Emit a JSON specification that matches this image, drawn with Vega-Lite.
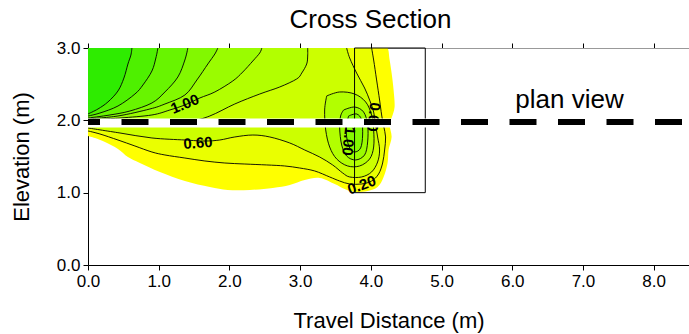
{
  "$schema": "https://vega.github.io/schema/vega-lite/v6.json",
  "width": 601,
  "height": 217,
  "autosize": "none",
  "padding": {"left": 88, "top": 48, "right": 0, "bottom": 69},
  "background": "white",
  "config": {
    "view": {"stroke": null},
    "font": "Liberation Sans",
    "axis": {"labelFont": "Liberation Sans", "titleFont": "Liberation Sans", "labelColor": "black", "titleColor": "black", "domainColor": "black", "tickColor": "black", "grid": false, "titleFontWeight": "normal"}
  },
  "title": {"text": "Cross Section", "fontSize": 26, "fontWeight": "normal", "font": "Liberation Sans", "color": "black", "anchor": "middle", "dx": -18, "offset": 6},
  "datasets": {
    "poly": [
      {"id":"p00","i":0,"x":0,"y":3,"c":1},
      {"id":"p00","i":0.5,"x":4.15,"y":3,"c":1},
      {"id":"p00","i":1,"x":4.237,"y":3,"c":0},
      {"id":"p00","i":2,"x":4.266,"y":2.834,"c":0},
      {"id":"p00","i":3,"x":4.294,"y":2.654,"c":0},
      {"id":"p00","i":4,"x":4.322,"y":2.419,"c":0},
      {"id":"p00","i":5,"x":4.336,"y":2.184,"c":0},
      {"id":"p00","i":6,"x":4.294,"y":2.032,"c":0},
      {"id":"p00","i":7,"x":4.266,"y":1.936,"c":0},
      {"id":"p00","i":8,"x":4.294,"y":1.77,"c":0},
      {"id":"p00","i":9,"x":4.251,"y":1.59,"c":0},
      {"id":"p00","i":10,"x":4.237,"y":1.41,"c":0},
      {"id":"p00","i":11,"x":4.181,"y":1.217,"c":0},
      {"id":"p00","i":12,"x":4.096,"y":1.078,"c":0},
      {"id":"p00","i":13,"x":3.955,"y":1.023,"c":0},
      {"id":"p00","i":14,"x":3.771,"y":1.009,"c":0},
      {"id":"p00","i":15,"x":3.63,"y":1.051,"c":0},
      {"id":"p00","i":16,"x":3.489,"y":1.12,"c":0},
      {"id":"p00","i":17,"x":3.277,"y":1.203,"c":0},
      {"id":"p00","i":18,"x":3.065,"y":1.175,"c":0},
      {"id":"p00","i":19,"x":2.853,"y":1.106,"c":0},
      {"id":"p00","i":20,"x":2.613,"y":1.065,"c":0},
      {"id":"p00","i":21,"x":2.288,"y":1.037,"c":0},
      {"id":"p00","i":22,"x":1.977,"y":1.037,"c":0},
      {"id":"p00","i":23,"x":1.723,"y":1.078,"c":0},
      {"id":"p00","i":24,"x":1.37,"y":1.161,"c":0},
      {"id":"p00","i":25,"x":1.017,"y":1.286,"c":0},
      {"id":"p00","i":26,"x":0.734,"y":1.41,"c":0},
      {"id":"p00","i":27,"x":0.565,"y":1.493,"c":0},
      {"id":"p00","i":28,"x":0.424,"y":1.604,"c":0},
      {"id":"p00","i":29,"x":0.24,"y":1.701,"c":0},
      {"id":"p00","i":30,"x":0.099,"y":1.756,"c":0},
      {"id":"p00","i":31,"x":0,"y":1.784,"c":0},

      {"id":"p01","i":0,"x":0,"y":3,"c":1},
      {"id":"p01","i":0.5,"x":3.93,"y":3,"c":1},
      {"id":"p01","i":1,"x":4.011,"y":3,"c":0},
      {"id":"p01","i":2,"x":4.04,"y":2.834,"c":0},
      {"id":"p01","i":3,"x":4.082,"y":2.558,"c":0},
      {"id":"p01","i":4,"x":4.124,"y":2.281,"c":0},
      {"id":"p01","i":5,"x":4.153,"y":2.074,"c":0},
      {"id":"p01","i":6,"x":4.181,"y":1.922,"c":0},
      {"id":"p01","i":7,"x":4.209,"y":1.77,"c":0},
      {"id":"p01","i":8,"x":4.195,"y":1.59,"c":0},
      {"id":"p01","i":9,"x":4.167,"y":1.41,"c":0},
      {"id":"p01","i":10,"x":4.11,"y":1.258,"c":0},
      {"id":"p01","i":11,"x":4.011,"y":1.161,"c":0},
      {"id":"p01","i":12,"x":3.87,"y":1.12,"c":0},
      {"id":"p01","i":13,"x":3.701,"y":1.12,"c":0},
      {"id":"p01","i":14,"x":3.559,"y":1.161,"c":0},
      {"id":"p01","i":15,"x":3.418,"y":1.217,"c":0},
      {"id":"p01","i":16,"x":3.206,"y":1.3,"c":0},
      {"id":"p01","i":17,"x":2.994,"y":1.341,"c":0},
      {"id":"p01","i":18,"x":2.782,"y":1.369,"c":0},
      {"id":"p01","i":19,"x":2.528,"y":1.383,"c":0},
      {"id":"p01","i":20,"x":2.218,"y":1.396,"c":0},
      {"id":"p01","i":21,"x":1.935,"y":1.41,"c":0},
      {"id":"p01","i":22,"x":1.653,"y":1.438,"c":0},
      {"id":"p01","i":23,"x":1.37,"y":1.479,"c":0},
      {"id":"p01","i":24,"x":1.088,"y":1.521,"c":0},
      {"id":"p01","i":25,"x":0.904,"y":1.562,"c":0},
      {"id":"p01","i":26,"x":0.664,"y":1.645,"c":0},
      {"id":"p01","i":27,"x":0.424,"y":1.728,"c":0},
      {"id":"p01","i":28,"x":0.169,"y":1.811,"c":0},
      {"id":"p01","i":29,"x":0,"y":1.853,"c":0},

      {"id":"p02","i":0,"x":0,"y":3,"c":1},
      {"id":"p02","i":0.5,"x":3.58,"y":3,"c":1},
      {"id":"p02","i":1,"x":3.658,"y":3,"c":0},
      {"id":"p02","i":2,"x":3.701,"y":2.862,"c":0},
      {"id":"p02","i":3,"x":3.799,"y":2.654,"c":0},
      {"id":"p02","i":4,"x":3.912,"y":2.447,"c":0},
      {"id":"p02","i":5,"x":3.983,"y":2.281,"c":0},
      {"id":"p02","i":6,"x":4.04,"y":2.115,"c":0},
      {"id":"p02","i":7,"x":4.068,"y":1.936,"c":0},
      {"id":"p02","i":8,"x":4.096,"y":1.77,"c":0},
      {"id":"p02","i":9,"x":4.124,"y":1.59,"c":0},
      {"id":"p02","i":10,"x":4.096,"y":1.424,"c":0},
      {"id":"p02","i":11,"x":4.011,"y":1.286,"c":0},
      {"id":"p02","i":12,"x":3.87,"y":1.217,"c":0},
      {"id":"p02","i":13,"x":3.701,"y":1.217,"c":0},
      {"id":"p02","i":14,"x":3.602,"y":1.272,"c":0},
      {"id":"p02","i":15,"x":3.46,"y":1.383,"c":0},
      {"id":"p02","i":16,"x":3.277,"y":1.493,"c":0},
      {"id":"p02","i":17,"x":3.065,"y":1.59,"c":0},
      {"id":"p02","i":18,"x":2.853,"y":1.687,"c":0},
      {"id":"p02","i":19,"x":2.571,"y":1.77,"c":0},
      {"id":"p02","i":20,"x":2.331,"y":1.797,"c":0},
      {"id":"p02","i":21,"x":2.076,"y":1.77,"c":0},
      {"id":"p02","i":22,"x":1.864,"y":1.728,"c":0},
      {"id":"p02","i":23,"x":1.653,"y":1.714,"c":0},
      {"id":"p02","i":24,"x":1.37,"y":1.728,"c":0},
      {"id":"p02","i":25,"x":0.904,"y":1.756,"c":0},
      {"id":"p02","i":26,"x":0.452,"y":1.825,"c":0},
      {"id":"p02","i":27,"x":0,"y":1.894,"c":0},

      {"id":"p03","i":0,"x":0,"y":3,"c":1},
      {"id":"p03","i":0.5,"x":3.03,"y":3,"c":1},
      {"id":"p03","i":1,"x":3.107,"y":3,"c":0},
      {"id":"p03","i":2,"x":3.107,"y":2.889,"c":0},
      {"id":"p03","i":3,"x":3.093,"y":2.779,"c":0},
      {"id":"p03","i":4,"x":3.023,"y":2.654,"c":0},
      {"id":"p03","i":5,"x":2.952,"y":2.572,"c":0},
      {"id":"p03","i":6,"x":2.712,"y":2.461,"c":0},
      {"id":"p03","i":7,"x":2.429,"y":2.364,"c":0},
      {"id":"p03","i":8,"x":2.076,"y":2.226,"c":0},
      {"id":"p03","i":9,"x":1.723,"y":2.06,"c":0},
      {"id":"p03","i":10,"x":1.441,"y":1.991,"c":0},
      {"id":"p03","i":11,"x":0.876,"y":1.949,"c":0},
      {"id":"p03","i":12,"x":0.452,"y":1.936,"c":0},
      {"id":"p03","i":13,"x":0,"y":1.936,"c":0},

      {"id":"p04","i":0,"x":0,"y":3,"c":1},
      {"id":"p04","i":0.5,"x":2.38,"y":3,"c":1},
      {"id":"p04","i":1,"x":2.458,"y":3,"c":0},
      {"id":"p04","i":2,"x":2.429,"y":2.931,"c":0},
      {"id":"p04","i":3,"x":2.331,"y":2.82,"c":0},
      {"id":"p04","i":4,"x":2.189,"y":2.668,"c":0},
      {"id":"p04","i":5,"x":2.048,"y":2.544,"c":0},
      {"id":"p04","i":6,"x":1.794,"y":2.392,"c":0},
      {"id":"p04","i":7,"x":1.582,"y":2.309,"c":0},
      {"id":"p04","i":8,"x":1.37,"y":2.212,"c":0},
      {"id":"p04","i":9,"x":1.158,"y":2.143,"c":0},
      {"id":"p04","i":10,"x":0.904,"y":2.074,"c":0},
      {"id":"p04","i":11,"x":0.452,"y":2.032,"c":0},
      {"id":"p04","i":12,"x":0,"y":2.005,"c":0},

      {"id":"p05","i":0,"x":0,"y":3,"c":1},
      {"id":"p05","i":0.5,"x":1.76,"y":3,"c":1},
      {"id":"p05","i":1,"x":1.836,"y":3,"c":0},
      {"id":"p05","i":2,"x":1.794,"y":2.917,"c":0},
      {"id":"p05","i":3,"x":1.695,"y":2.779,"c":0},
      {"id":"p05","i":4,"x":1.54,"y":2.558,"c":0},
      {"id":"p05","i":5,"x":1.37,"y":2.35,"c":0},
      {"id":"p05","i":6,"x":1.088,"y":2.226,"c":0},
      {"id":"p05","i":7,"x":0.876,"y":2.157,"c":0},
      {"id":"p05","i":8,"x":0.424,"y":2.06,"c":0},
      {"id":"p05","i":9,"x":0,"y":2.019,"c":0},

      {"id":"p06","i":0,"x":0,"y":3,"c":1},
      {"id":"p06","i":0.5,"x":1.34,"y":3,"c":1},
      {"id":"p06","i":1,"x":1.412,"y":3,"c":0},
      {"id":"p06","i":2,"x":1.37,"y":2.834,"c":0},
      {"id":"p06","i":3,"x":1.271,"y":2.599,"c":0},
      {"id":"p06","i":4,"x":1.088,"y":2.392,"c":0},
      {"id":"p06","i":5,"x":0.904,"y":2.24,"c":0},
      {"id":"p06","i":6,"x":0.593,"y":2.129,"c":0},
      {"id":"p06","i":7,"x":0.311,"y":2.074,"c":0},
      {"id":"p06","i":8,"x":0,"y":2.032,"c":0},

      {"id":"p07","i":0,"x":0,"y":3,"c":1},
      {"id":"p07","i":0.5,"x":0.92,"y":3,"c":1},
      {"id":"p07","i":1,"x":0.989,"y":3,"c":0},
      {"id":"p07","i":2,"x":0.96,"y":2.862,"c":0},
      {"id":"p07","i":3,"x":0.904,"y":2.682,"c":0},
      {"id":"p07","i":4,"x":0.777,"y":2.489,"c":0},
      {"id":"p07","i":5,"x":0.664,"y":2.364,"c":0},
      {"id":"p07","i":6,"x":0.424,"y":2.198,"c":0},
      {"id":"p07","i":7,"x":0.169,"y":2.101,"c":0},
      {"id":"p07","i":8,"x":0,"y":2.06,"c":0},

      {"id":"p08","i":0,"x":0,"y":3,"c":1},
      {"id":"p08","i":0.5,"x":0.56,"y":3,"c":1},
      {"id":"p08","i":1,"x":0.621,"y":3,"c":0},
      {"id":"p08","i":2,"x":0.607,"y":2.903,"c":0},
      {"id":"p08","i":3,"x":0.565,"y":2.779,"c":0},
      {"id":"p08","i":4,"x":0.508,"y":2.585,"c":0},
      {"id":"p08","i":5,"x":0.424,"y":2.406,"c":0},
      {"id":"p08","i":6,"x":0.282,"y":2.254,"c":0},
      {"id":"p08","i":7,"x":0.141,"y":2.157,"c":0},
      {"id":"p08","i":8,"x":0,"y":2.088,"c":0},

      {"id":"p09","i":0,"x":3.376,"y":2.337,"c":0},
      {"id":"p09","i":1,"x":3.559,"y":2.392,"c":0},
      {"id":"p09","i":2,"x":3.771,"y":2.364,"c":0},
      {"id":"p09","i":3,"x":3.927,"y":2.254,"c":0},
      {"id":"p09","i":4,"x":4.011,"y":2.074,"c":0},
      {"id":"p09","i":5,"x":4.04,"y":1.866,"c":0},
      {"id":"p09","i":6,"x":4.04,"y":1.631,"c":0},
      {"id":"p09","i":7,"x":3.983,"y":1.466,"c":0},
      {"id":"p09","i":8,"x":3.842,"y":1.369,"c":0},
      {"id":"p09","i":9,"x":3.672,"y":1.369,"c":0},
      {"id":"p09","i":10,"x":3.517,"y":1.466,"c":0},
      {"id":"p09","i":11,"x":3.418,"y":1.631,"c":0},
      {"id":"p09","i":12,"x":3.362,"y":1.866,"c":0},
      {"id":"p09","i":13,"x":3.347,"y":2.143,"c":0},
      {"id":"p09","i":14,"x":3.376,"y":2.337,"c":0},

      {"id":"p10","i":0,"x":3.616,"y":2.143,"c":0},
      {"id":"p10","i":1,"x":3.771,"y":2.184,"c":0},
      {"id":"p10","i":2,"x":3.898,"y":2.115,"c":0},
      {"id":"p10","i":3,"x":3.955,"y":1.936,"c":0},
      {"id":"p10","i":4,"x":3.955,"y":1.701,"c":0},
      {"id":"p10","i":5,"x":3.912,"y":1.521,"c":0},
      {"id":"p10","i":6,"x":3.785,"y":1.452,"c":0},
      {"id":"p10","i":7,"x":3.658,"y":1.507,"c":0},
      {"id":"p10","i":8,"x":3.588,"y":1.659,"c":0},
      {"id":"p10","i":9,"x":3.559,"y":1.894,"c":0},
      {"id":"p10","i":10,"x":3.573,"y":2.06,"c":0},
      {"id":"p10","i":11,"x":3.616,"y":2.143,"c":0},

      {"id":"p11","i":0,"x":3.686,"y":2.06,"c":0},
      {"id":"p11","i":1,"x":3.799,"y":2.088,"c":0},
      {"id":"p11","i":2,"x":3.87,"y":2.005,"c":0},
      {"id":"p11","i":3,"x":3.884,"y":1.797,"c":0},
      {"id":"p11","i":4,"x":3.856,"y":1.618,"c":0},
      {"id":"p11","i":5,"x":3.771,"y":1.562,"c":0},
      {"id":"p11","i":6,"x":3.701,"y":1.618,"c":0},
      {"id":"p11","i":7,"x":3.658,"y":1.77,"c":0},
      {"id":"p11","i":8,"x":3.658,"y":1.936,"c":0},
      {"id":"p11","i":9,"x":3.686,"y":2.06,"c":0}
    ]
  },
  "resolve": {"axis": {"x": "independent", "y": "independent"}},
  "layer": [
    {
      "data": {"name": "poly"},
      "mark": {"type": "line", "interpolate": "cardinal", "clip": true, "stroke": "transparent", "strokeWidth": 0},
      "encoding": {
        "x": {"field": "x", "type": "quantitative", "scale": {"domain": [0, 8.5], "nice": false, "zero": false},
              "axis": {"orient": "bottom", "values": [0,1,2,3,4,5,6,7,8], "format": ".1f", "title": "Travel Distance (m)", "tickSize": 5, "labelFontSize": 17, "titleFontSize": 22, "labelPadding": 3, "titlePadding": 21, "labelFlush": false}},
        "y": {"field": "y", "type": "quantitative", "scale": {"domain": [0, 3], "nice": false, "zero": false},
              "axis": {"orient": "left", "values": [0,1,2,3], "format": ".1f", "title": "Elevation (m)", "tickSize": 5, "labelFontSize": 17, "titleFontSize": 22, "labelPadding": 3, "titlePadding": 23, "labelFlush": false}},
        "fill": {"field": "id", "type": "nominal", "legend": null,
                 "scale": {"domain": ["p00","p01","p02","p03","p04","p05","p06","p07","p08","p09","p10","p11"],
                           "range": ["#ffff00","#eaff00","#ccff00","#b2ff00","#9afc00","#82f800","#68f400","#4ef000","#2eec00","#b2ff00","#9afc00","#84f900"]}},
        "order": {"field": "i", "type": "quantitative"}
      }
    },
    {
      "data": {"name": "poly"},
      "transform": [{"filter": "datum.c == 0 && datum.id != 'p00'"}],
      "mark": {"type": "line", "interpolate": "cardinal", "clip": true, "stroke": "black", "strokeWidth": 0.9},
      "encoding": {
        "x": {"field": "x", "type": "quantitative", "axis": null},
        "y": {"field": "y", "type": "quantitative", "axis": null},
        "detail": {"field": "id", "type": "nominal"},
        "order": {"field": "i", "type": "quantitative"}
      }
    },
    {
      "data": {"values": [{"x1": 3.77, "x2": 4.77, "y1": 1.0, "y2": 3.0}]},
      "mark": {"type": "rect", "fill": "transparent", "stroke": "black", "strokeWidth": 1},
      "encoding": {
        "x": {"field": "x1", "type": "quantitative", "axis": {"orient": "top", "values": [0,1,2,3,4,5,6,7,8], "labels": false, "title": null, "tickSize": 5, "domainColor": "#999999", "tickColor": "black"}},
        "x2": {"field": "x2"},
        "y": {"field": "y1", "type": "quantitative", "axis": null},
        "y2": {"field": "y2"}
      }
    },
    {
      "data": {"values": [{"x": 1.37, "y": 2.226, "label": "1.00"}]},
      "mark": {"type": "text", "angle": -22, "fontSize": 15, "fontWeight": "bold", "color": "black"},
      "encoding": {"x": {"field": "x", "type": "quantitative", "axis": null}, "y": {"field": "y", "type": "quantitative", "axis": null}, "text": {"field": "label"}}
    },
    {
      "data": {"values": [{"x": 1.554, "y": 1.687, "label": "0.60"}]},
      "mark": {"type": "text", "angle": -4, "fontSize": 15, "fontWeight": "bold", "color": "black"},
      "encoding": {"x": {"field": "x", "type": "quantitative", "axis": null}, "y": {"field": "y", "type": "quantitative", "axis": null}, "text": {"field": "label"}}
    },
    {
      "data": {"values": [{"x": 3.686, "y": 1.714, "label": "1.00"}]},
      "mark": {"type": "text", "angle": 96, "fontSize": 15, "fontWeight": "bold", "color": "black"},
      "encoding": {"x": {"field": "x", "type": "quantitative", "axis": null}, "y": {"field": "y", "type": "quantitative", "axis": null}, "text": {"field": "label"}}
    },
    {
      "data": {"values": [{"x": 4.04, "y": 2.046, "label": "0.60"}]},
      "mark": {"type": "text", "angle": 96, "fontSize": 15, "fontWeight": "bold", "color": "black"},
      "encoding": {"x": {"field": "x", "type": "quantitative", "axis": null}, "y": {"field": "y", "type": "quantitative", "axis": null}, "text": {"field": "label"}}
    },
    {
      "data": {"values": [{"x": 3.87, "y": 1.106, "label": "0.20"}]},
      "mark": {"type": "text", "angle": -20, "fontSize": 15, "fontWeight": "bold", "color": "black"},
      "encoding": {"x": {"field": "x", "type": "quantitative", "axis": null}, "y": {"field": "y", "type": "quantitative", "axis": null}, "text": {"field": "label"}}
    },
    {
      "data": {"values": [{"y": 1.963}]},
      "mark": {"type": "rule", "color": "white", "strokeWidth": 9},
      "encoding": {"y": {"field": "y", "type": "quantitative", "axis": null}}
    },
    {
      "data": {"values": [{"y": 1.977}]},
      "mark": {"type": "rule", "color": "black", "strokeWidth": 6, "strokeDash": [27, 21.5], "strokeDashOffset": 41.5},
      "encoding": {"y": {"field": "y", "type": "quantitative", "axis": null}}
    },
    {
      "data": {"values": [{"x": 6.81, "y": 2.28, "label": "plan view"}]},
      "mark": {"type": "text", "fontSize": 26, "color": "black"},
      "encoding": {"x": {"field": "x", "type": "quantitative", "axis": null}, "y": {"field": "y", "type": "quantitative", "axis": null}, "text": {"field": "label"}}
    }
  ]
}
